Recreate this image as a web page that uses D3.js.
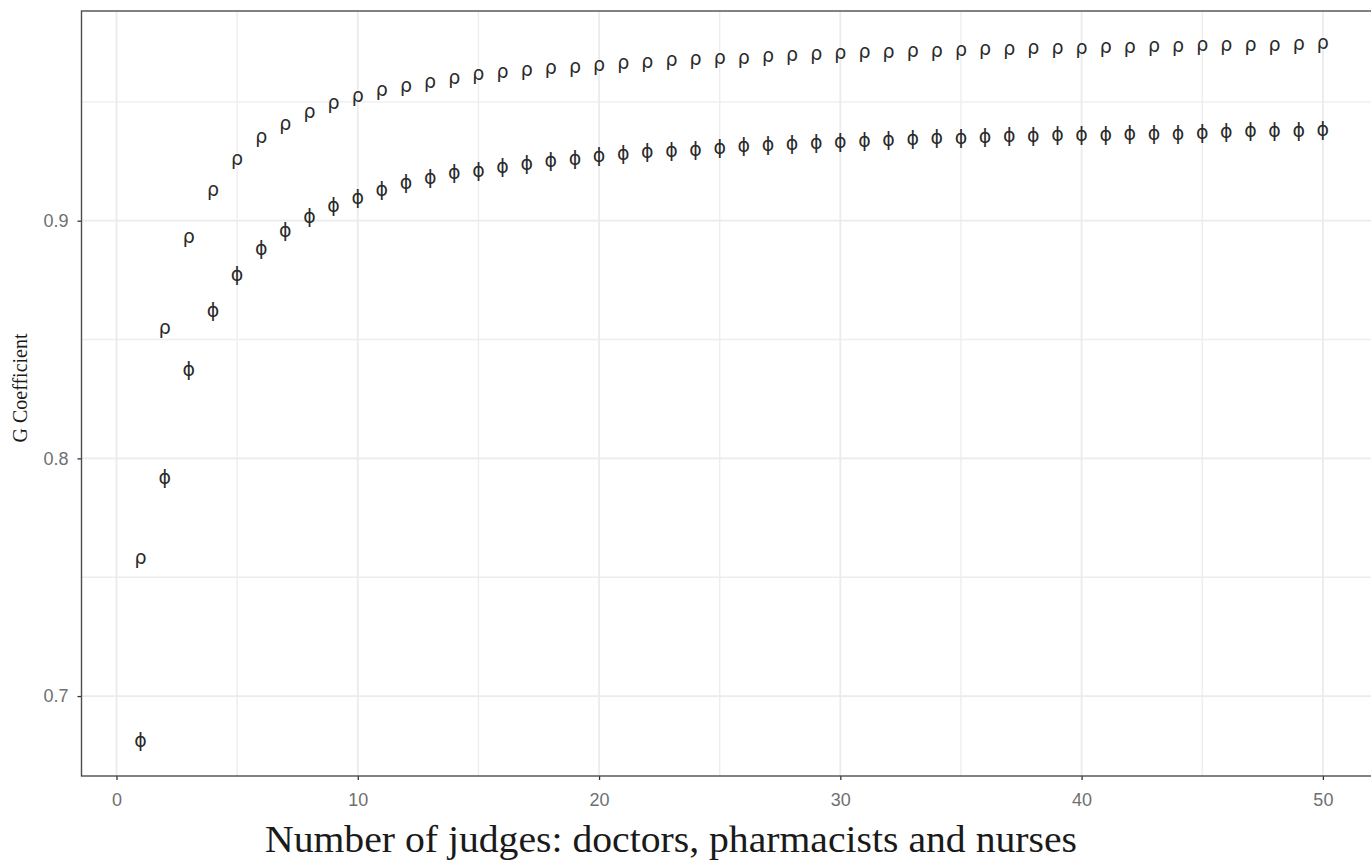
<!DOCTYPE html>
<html>
<head>
<meta charset="utf-8">
<script src="https://cdn.jsdelivr.net/npm/d3@7"></script>
<style>
  html, body { margin: 0; padding: 0; background: #ffffff; }
  svg { display: block; }
</style>
</head>
<body>
<svg id="chart" width="1371" height="862"></svg>
<script>
// Number of judges (facet sample size) in the decision study
const judges = d3.range(1, 51);

// Relative G coefficient (ρ) for each number of judges
const rhoValues = [
  0.757, 0.854, 0.892, 0.912, 0.925, 0.934, 0.9395, 0.9445, 0.9486, 0.9516,
  0.9539, 0.9558, 0.9572, 0.959, 0.9605, 0.9614, 0.9623, 0.963, 0.9638, 0.9644,
  0.9651, 0.9658, 0.9664, 0.9668, 0.9672, 0.9676, 0.9682, 0.9686, 0.9692, 0.9694,
  0.9698, 0.9699, 0.9703, 0.9704, 0.9707, 0.9711, 0.9712, 0.9715, 0.9717, 0.9718,
  0.9721, 0.9722, 0.9723, 0.9726, 0.9727, 0.9728, 0.9729, 0.973, 0.9734, 0.9736
];

// Absolute G coefficient (Φ) for each number of judges
const phiValues = [
  0.681, 0.7914, 0.837, 0.8617, 0.877, 0.8879, 0.8954, 0.9013, 0.9061, 0.9094,
  0.9129, 0.9157, 0.9178, 0.9197, 0.9209, 0.9224, 0.9237, 0.9249, 0.9257, 0.9269,
  0.9278, 0.9286, 0.929, 0.9297, 0.9304, 0.9311, 0.9317, 0.9321, 0.9325, 0.9327,
  0.9332, 0.9338, 0.934, 0.9344, 0.9346, 0.9348, 0.9353, 0.9354, 0.9357, 0.9358,
  0.936, 0.9362, 0.9363, 0.9364, 0.9367, 0.9372, 0.9374, 0.9375, 0.9376, 0.9381
];

const xTicks = [0, 10, 20, 30, 40, 50];
const yTicks = [0.7, 0.8, 0.9];
const xMinor = [5, 15, 25, 35, 45];
const yMinor = [0.75, 0.85, 0.95];

const xTitle = "Number of judges: doctors, pharmacists and nurses";
const yTitle = "G Coefficient";
const rhoSymbol = "\u03C1";
const phiSymbol = "\u03D5";

// Panel geometry (panel extends past the right edge of the canvas)
const panel = { left: 81.5, top: 11, right: 1382, bottom: 776 };

const svg = d3.select("#chart");

// 5% expansion on both axes, as in the usual continuous scale default
function expanded(ext) {
  const pad = (ext[1] - ext[0]) * 0.05;
  return [ext[0] - pad, ext[1] + pad];
}
const allY = rhoValues.concat(phiValues);

const x = d3.scaleLinear()
  .domain(expanded(d3.extent(judges)))
  .range([panel.left, panel.right]);
const y = d3.scaleLinear()
  .domain(expanded(d3.extent(allY)))
  .range([panel.bottom, panel.top]);

const clipId = "panel-clip";
svg.append("defs").append("clipPath").attr("id", clipId)
  .append("rect")
  .attr("x", panel.left).attr("y", panel.top)
  .attr("width", panel.right - panel.left).attr("height", panel.bottom - panel.top);

const grid = svg.append("g").attr("clip-path", `url(#${clipId})`);

// minor grid
grid.selectAll("line.vminor").data(xMinor).join("line")
  .attr("x1", d => x(d)).attr("x2", d => x(d))
  .attr("y1", panel.top).attr("y2", panel.bottom)
  .attr("stroke", "#ededed").attr("stroke-width", 1.4);
grid.selectAll("line.hminor").data(yMinor).join("line")
  .attr("y1", d => y(d)).attr("y2", d => y(d))
  .attr("x1", panel.left).attr("x2", panel.right)
  .attr("stroke", "#ededed").attr("stroke-width", 1.4);

// major grid
grid.selectAll("line.vmajor").data(xTicks).join("line")
  .attr("x1", d => x(d)).attr("x2", d => x(d))
  .attr("y1", panel.top).attr("y2", panel.bottom)
  .attr("stroke", "#ebebeb").attr("stroke-width", 1.8);
grid.selectAll("line.hmajor").data(yTicks).join("line")
  .attr("y1", d => y(d)).attr("y2", d => y(d))
  .attr("x1", panel.left).attr("x2", panel.right)
  .attr("stroke", "#ebebeb").attr("stroke-width", 1.8);

// axes
const tickFont = "'Liberation Sans', sans-serif";
const xAxis = d3.axisBottom(x).tickValues(xTicks).tickSize(4).tickPadding(13)
  .tickFormat(d3.format("d"));
const yAxis = d3.axisLeft(y).tickValues(yTicks).tickSize(4).tickPadding(9)
  .tickFormat(d3.format(".1f"));

const gx = svg.append("g").attr("transform", `translate(0,${panel.bottom})`).call(xAxis);
const gy = svg.append("g").attr("transform", `translate(${panel.left},0)`).call(yAxis);
[gx, gy].forEach(g => {
  g.select(".domain").remove();
  g.selectAll(".tick line").attr("stroke", "#333333").attr("stroke-width", 1.3);
  g.selectAll(".tick text")
    .attr("fill", "#707070")
    .style("font-family", tickFont)
    .style("font-size", "18px");
});

// panel border
svg.append("rect")
  .attr("x", panel.left).attr("y", panel.top)
  .attr("width", panel.right - panel.left).attr("height", panel.bottom - panel.top)
  .attr("fill", "none").attr("stroke", "#4d4d4d").attr("stroke-width", 1.4);

// glyph markers centred on their ink box
const glyphFont = "DejaVu Sans";
const glyphSize = 19;
function inkShift(ch) {
  const ctx = document.createElement("canvas").getContext("2d");
  ctx.font = `${glyphSize}px '${glyphFont}'`;
  const m = ctx.measureText(ch);
  return (m.actualBoundingBoxAscent - m.actualBoundingBoxDescent) / 2;
}

function drawSeries(values, ch) {
  const shift = inkShift(ch);
  svg.append("g").attr("clip-path", `url(#${clipId})`)
    .selectAll("text").data(values).join("text")
    .attr("x", (d, i) => x(judges[i]))
    .attr("y", d => y(d) + shift)
    .attr("text-anchor", "middle")
    .attr("fill", "#2a2a2a")
    .style("font-family", glyphFont)
    .style("font-size", glyphSize + "px")
    .text(ch);
}
drawSeries(rhoValues, rhoSymbol);
drawSeries(phiValues, phiSymbol);

// axis titles
svg.append("text")
  .attr("x", 671).attr("y", 852)
  .attr("text-anchor", "middle")
  .attr("textLength", 812)
  .attr("lengthAdjust", "spacingAndGlyphs")
  .attr("fill", "#1a1a1a")
  .style("font-family", "'Liberation Serif', serif")
  .style("font-size", "37px")
  .text(xTitle);

svg.append("text")
  .attr("transform", `translate(27,388) rotate(-90)`)
  .attr("text-anchor", "middle")
  .attr("fill", "#1a1a1a")
  .style("font-family", "'Liberation Serif', serif")
  .style("font-size", "20px")
  .text(yTitle);
</script>
</body>
</html>
